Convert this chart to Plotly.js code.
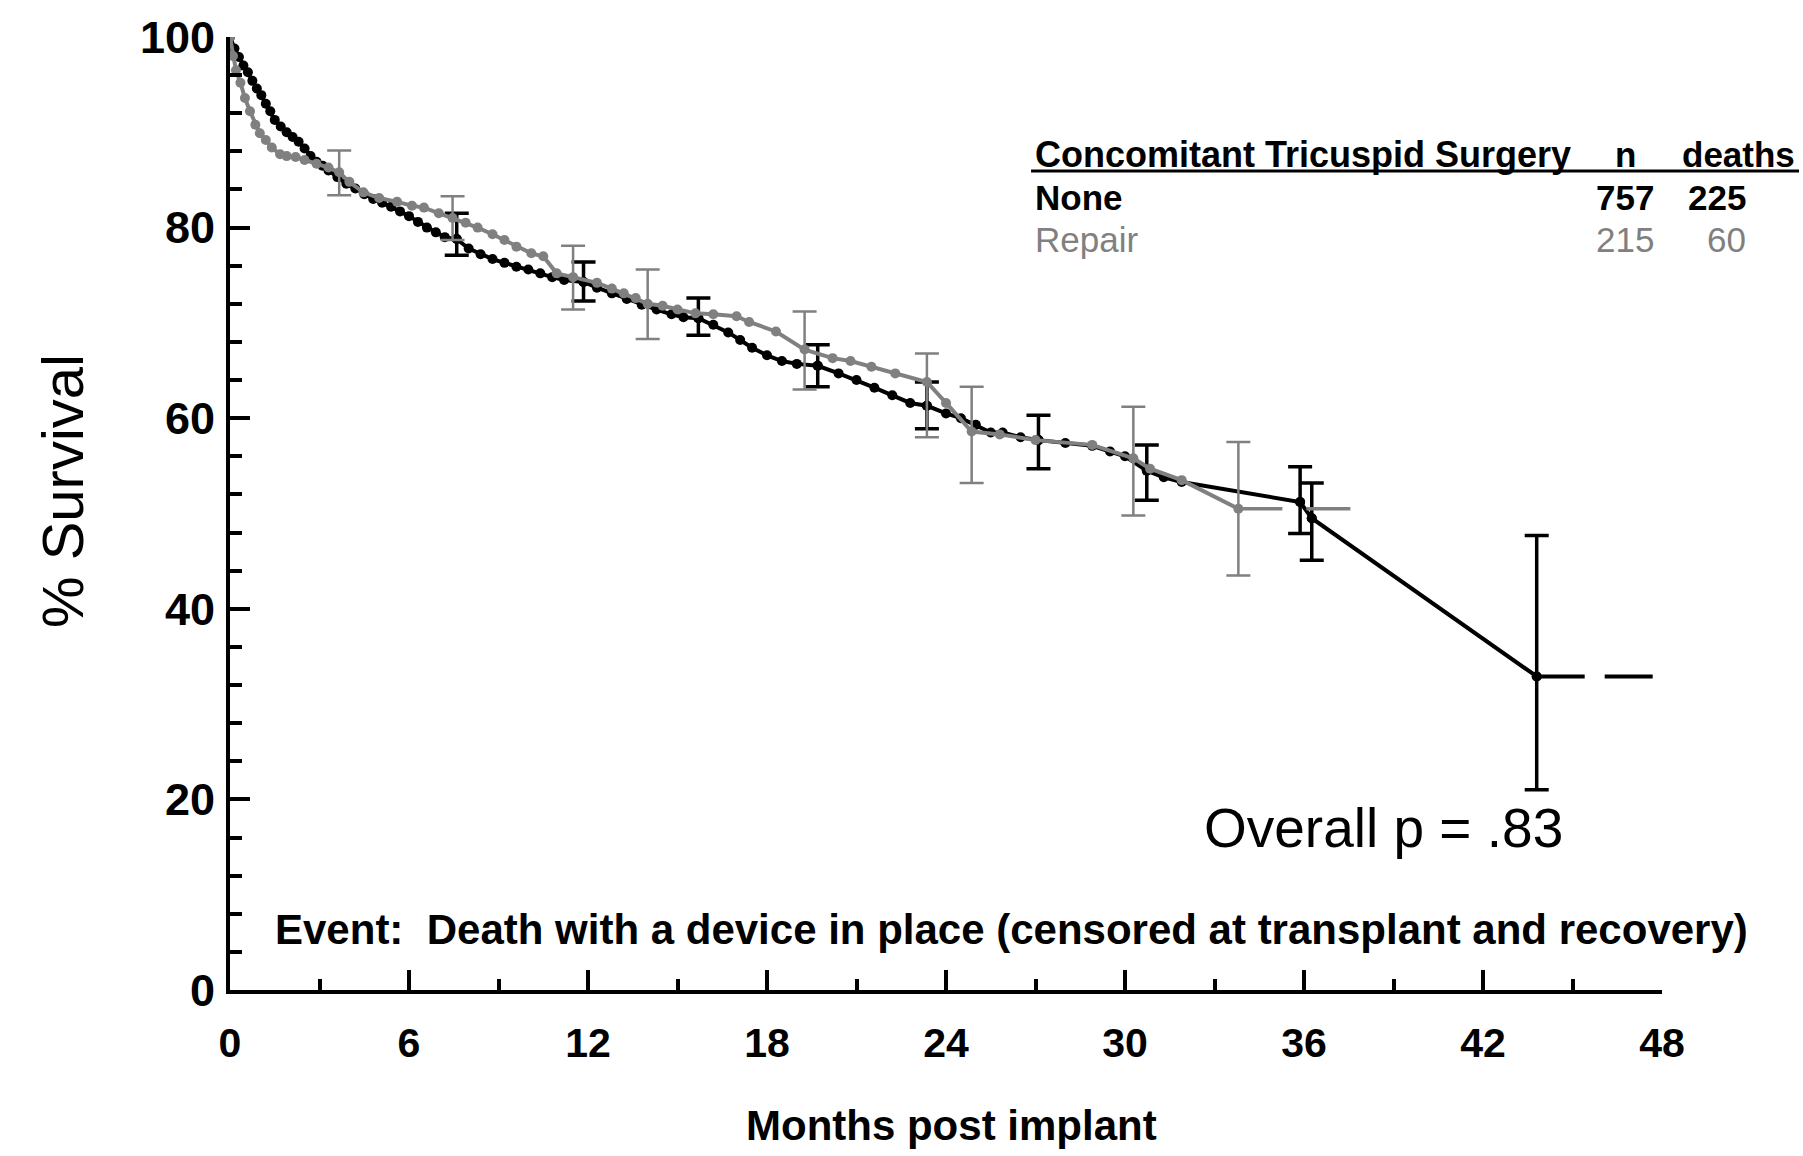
<!DOCTYPE html>
<html>
<head>
<meta charset="utf-8">
<script src="https://cdn.plot.ly/plotly-3.0.1.min.js"></script>
<style>
  html, body { margin: 0; padding: 0; background: #ffffff; }
  #chart { width: 1803px; height: 1156px; }
</style>
</head>
<body>
<div id="chart"></div>
<script>
// Survival with a device in place, by concomitant tricuspid surgery

// No concomitant tricuspid surgery (black)
const noneMonths = [0, 0.15, 0.3, 0.45, 0.6, 0.75, 0.9, 1.05, 1.2, 1.35, 1.5, 1.7, 1.9, 2.1, 2.3, 2.5, 2.7, 2.9, 3.1, 3.3, 3.6, 3.9, 4.2, 4.5, 4.8, 5.1, 5.4, 5.7, 6.0, 6.3, 6.6, 6.9, 7.2, 7.6, 8.0, 8.4, 8.8, 9.2, 9.6, 10.0, 10.4, 10.8, 11.2, 11.85, 12.3, 12.8, 13.3, 13.8, 14.3, 14.8, 15.2, 15.7, 16.2, 16.7, 17.1, 17.5, 18.0, 18.5, 19.0, 19.7, 20.4, 21.0, 21.6, 22.2, 22.8, 23.36, 24.0, 24.5, 25.0, 25.5, 25.9, 26.5, 27.1, 28.0, 28.9, 29.5, 30.0, 30.73, 31.3, 31.9, 35.87, 36.26, 43.8];
const noneSurv = [100, 98.8, 97.9, 97.0, 96.3, 95.4, 94.6, 93.9, 93.0, 92.2, 91.3, 90.6, 90.0, 89.5, 89.0, 88.3, 87.5, 86.9, 86.5, 86.0, 85.3, 84.6, 84.1, 83.5, 83.0, 82.6, 82.2, 81.7, 81.2, 80.6, 80.0, 79.5, 79.0, 78.8, 77.8, 77.2, 76.7, 76.3, 75.9, 75.6, 75.2, 74.8, 74.5, 74.3, 73.7, 73.1, 72.5, 71.9, 71.4, 70.9, 70.6, 70.5, 69.8, 69.0, 68.2, 67.4, 66.6, 66.0, 65.7, 65.5, 64.7, 64.0, 63.2, 62.4, 61.6, 61.3, 60.5, 60.0, 59.3, 58.5, 58.5, 58.0, 57.7, 57.4, 57.1, 56.5, 56.0, 54.5, 53.8, 53.3, 51.2, 49.5, 32.9];
// confidence limits (months, estimate, upper, lower)
const noneCiMonths = [7.6, 11.85, 15.7, 19.7, 23.36, 27.1, 30.73, 35.87, 36.26, 43.8];
const noneCiSurv   = [78.8, 74.3, 70.5, 65.5, 61.3, 57.7, 54.5, 51.2, 49.5, 32.9];
const noneCiUpper  = [81.5, 76.4, 72.6, 67.7, 63.8, 60.3, 57.2, 54.9, 53.2, 47.7];
const noneCiLower  = [77.1, 72.3, 68.7, 63.3, 58.9, 54.7, 51.4, 47.9, 45.1, 21.0];
// last estimate carried forward
const noneTailMonths = [43.8, 47.8];
const noneTailSurv   = [32.9, 32.9];

// Tricuspid repair (grey)
const repairMonths = [0, 0.1, 0.2, 0.35, 0.5, 0.67, 0.85, 1.0, 1.2, 1.4, 1.68, 1.9, 2.2, 2.5, 2.9, 3.3, 3.66, 4.0, 4.47, 5.0, 5.6, 6.1, 6.5, 7.0, 7.46, 7.9, 8.3, 8.8, 9.2, 9.6, 10.1, 10.5, 10.95, 11.5, 12.3, 12.8, 13.2, 13.6, 14.0, 14.5, 15.0, 15.6, 16.2, 16.98, 17.4, 18.3, 19.26, 20.2, 20.8, 21.5, 22.3, 23.36, 24.0, 24.86, 25.8, 27.0, 28.9, 30.28, 30.84, 31.9, 33.8];
const repairSurv = [100, 98.0, 96.5, 95.2, 93.6, 92.2, 90.8, 89.9, 89.2, 88.4, 87.7, 87.5, 87.4, 87.1, 86.7, 86.3, 85.8, 84.8, 83.7, 83.1, 82.7, 82.3, 82.1, 81.5, 81.0, 80.5, 80.0, 79.3, 78.7, 78.0, 77.3, 77.0, 75.2, 74.8, 74.2, 73.6, 73.1, 72.6, 72.0, 71.8, 71.4, 71.0, 70.9, 70.7, 70.1, 69.1, 67.2, 66.3, 66.0, 65.4, 64.7, 63.8, 61.6, 58.6, 58.3, 57.7, 57.2, 55.8, 54.7, 53.5, 50.5];
const repairCiMonths = [3.66, 7.46, 11.5, 14.0, 19.26, 23.36, 24.86, 30.28, 33.8];
const repairCiSurv   = [85.8, 81.0, 74.8, 72.0, 67.2, 63.8, 58.6, 55.8, 50.5];
const repairCiUpper  = [88.1, 83.3, 78.1, 75.6, 71.2, 66.8, 63.3, 61.2, 57.5];
const repairCiLower  = [83.4, 78.7, 71.4, 68.3, 63.0, 58.0, 53.2, 49.8, 43.5];
const repairTailMonths = [33.8, 37.7];
const repairTailSurv   = [50.5, 50.5];

// Table of groups
const groupNames  = ["None", "Repair"];
const groupN      = [757, 215];
const groupDeaths = [225, 60];

const xTicks = [0, 6, 12, 18, 24, 30, 36, 42, 48];
const yTicks = [0, 20, 40, 60, 80, 100];

const BLACK = "#000000";
const GREY = "#808080";
const FONT = "Liberation Sans, Arial, Helvetica, sans-serif";

function ciPlus(est, up) { return est.map((v, i) => up[i] - v); }
function ciMinus(est, lo) { return est.map((v, i) => v - lo[i]); }

const traces = [
  {
    x: noneMonths, y: noneSurv, type: "scatter", mode: "lines+markers",
    line: { color: BLACK, width: 4 },
    marker: { color: BLACK, size: 10 },
    hoverinfo: "skip", showlegend: false
  },
  {
    x: noneCiMonths, y: noneCiSurv, type: "scatter", mode: "markers",
    marker: { color: BLACK, size: 10 },
    error_y: { type: "data", symmetric: false,
      array: ciPlus(noneCiSurv, noneCiUpper),
      arrayminus: ciMinus(noneCiSurv, noneCiLower),
      color: BLACK, thickness: 3.5, width: 12 },
    hoverinfo: "skip", showlegend: false
  },
  {
    x: noneTailMonths, y: noneTailSurv, type: "scatter", mode: "lines",
    line: { color: BLACK, width: 4, dash: "48px,20px" },
    hoverinfo: "skip", showlegend: false
  },
  {
    x: repairMonths, y: repairSurv, type: "scatter", mode: "lines+markers",
    line: { color: GREY, width: 4 },
    marker: { color: GREY, size: 10 },
    hoverinfo: "skip", showlegend: false
  },
  {
    x: repairCiMonths, y: repairCiSurv, type: "scatter", mode: "markers",
    marker: { color: GREY, size: 8 },
    error_y: { type: "data", symmetric: false,
      array: ciPlus(repairCiSurv, repairCiUpper),
      arrayminus: ciMinus(repairCiSurv, repairCiLower),
      color: GREY, thickness: 2.5, width: 12 },
    hoverinfo: "skip", showlegend: false
  },
  {
    x: repairTailMonths, y: repairTailSurv, type: "scatter", mode: "lines",
    line: { color: GREY, width: 3.5, dash: "44px,24px" },
    hoverinfo: "skip", showlegend: false
  }
];

// Group table, positioned as fractions of the plot area (may extend past its right edge)
const tableLeft = 0.5608;
const nCenter = 0.9742;
const deathsCenter = 1.0535;
const deathsRight = 1.0601;
const headerY = 0.8762;
const rowY = [0.8311, 0.787];
const TABLE_SIZE = 35;

const annotations = [
  { xref: "paper", yref: "paper", x: tableLeft, y: headerY, xanchor: "left", yanchor: "middle",
    text: "<b>Concomitant Tricuspid Surgery</b>", showarrow: false,
    font: { family: FONT, size: 36, color: BLACK } },
  { xref: "paper", yref: "paper", x: nCenter, y: headerY, xanchor: "center", yanchor: "middle",
    text: "<b>n</b>", showarrow: false, font: { family: FONT, size: TABLE_SIZE, color: BLACK } },
  { xref: "paper", yref: "paper", x: deathsCenter, y: headerY, xanchor: "center", yanchor: "middle",
    text: "<b>deaths</b>", showarrow: false, font: { family: FONT, size: TABLE_SIZE, color: BLACK } },
  { xref: "x", yref: "y", x: 38.65, y: 17.0, xanchor: "center", yanchor: "middle",
    text: "Overall p = .83", showarrow: false, font: { family: FONT, size: 55, color: BLACK } },
  { xref: "x", yref: "y", x: 1.45, y: 6.4, xanchor: "left", yanchor: "middle",
    text: "<b>Event:  Death with a device in place (censored at transplant and recovery)</b>",
    showarrow: false, font: { family: FONT, size: 42, color: BLACK } },
  { xref: "paper", yref: "paper", x: -0.1173, y: 0.5236, xanchor: "center", yanchor: "middle",
    textangle: -90, text: "% Survival", showarrow: false,
    font: { family: FONT, size: 58, color: BLACK } },
  { xref: "paper", yref: "paper", x: 0.5035, y: -0.142, xanchor: "center", yanchor: "middle",
    text: "<b>Months post implant</b>", showarrow: false,
    font: { family: FONT, size: 42, color: BLACK } }
];

groupNames.forEach((name, i) => {
  const col = i === 0 ? BLACK : GREY;
  const open = i === 0 ? "<b>" : "";
  const close = i === 0 ? "</b>" : "";
  annotations.push(
    { xref: "paper", yref: "paper", x: tableLeft, y: rowY[i], xanchor: "left", yanchor: "middle",
      text: open + name + close, showarrow: false, font: { family: FONT, size: TABLE_SIZE, color: col } },
    { xref: "paper", yref: "paper", x: nCenter, y: rowY[i], xanchor: "center", yanchor: "middle",
      text: open + groupN[i] + close, showarrow: false, font: { family: FONT, size: TABLE_SIZE, color: col } },
    { xref: "paper", yref: "paper", x: deathsRight, y: rowY[i], xanchor: "right", yanchor: "middle",
      text: open + groupDeaths[i] + close, showarrow: false, font: { family: FONT, size: TABLE_SIZE, color: col } }
  );
});

const layout = {
  width: 1803, height: 1156,
  margin: { l: 230, r: 141, t: 37, b: 166 },
  paper_bgcolor: "#ffffff", plot_bgcolor: "#ffffff",
  showlegend: false,
  xaxis: {
    range: [0, 48], tickvals: xTicks, ticktext: xTicks.map(String),
    showgrid: false, zeroline: false,
    showline: true, linecolor: BLACK, linewidth: 4,
    ticks: "inside", ticklen: 20, tickwidth: 4, tickcolor: BLACK,
    minor: { dtick: 3, tick0: 0, ticks: "inside", ticklen: 11, tickwidth: 4, tickcolor: BLACK, showgrid: false },
    ticklabelstandoff: 14,
    tickfont: { family: FONT, size: 41, color: BLACK, weight: 700 },
    fixedrange: true
  },
  yaxis: {
    range: [0, 100], tickvals: yTicks, ticktext: yTicks.map(String),
    showgrid: false, zeroline: false,
    showline: true, linecolor: BLACK, linewidth: 4,
    ticks: "inside", ticklen: 20, tickwidth: 4, tickcolor: BLACK,
    minor: { dtick: 4, tick0: 0, ticks: "inside", ticklen: 12, tickwidth: 4, tickcolor: BLACK, showgrid: false },
    ticklabelstandoff: 2,
    tickfont: { family: FONT, size: 45, color: BLACK, weight: 700 },
    fixedrange: true
  },
  shapes: [
    { type: "line", xref: "paper", yref: "paper", x0: 0.5594, x1: 1.0957, y0: 0.8594, y1: 0.8594,
      line: { color: BLACK, width: 3 } }
  ],
  annotations: annotations
};

Plotly.newPlot("chart", traces, layout, { staticPlot: true, displayModeBar: false });
</script>
</body>
</html>
